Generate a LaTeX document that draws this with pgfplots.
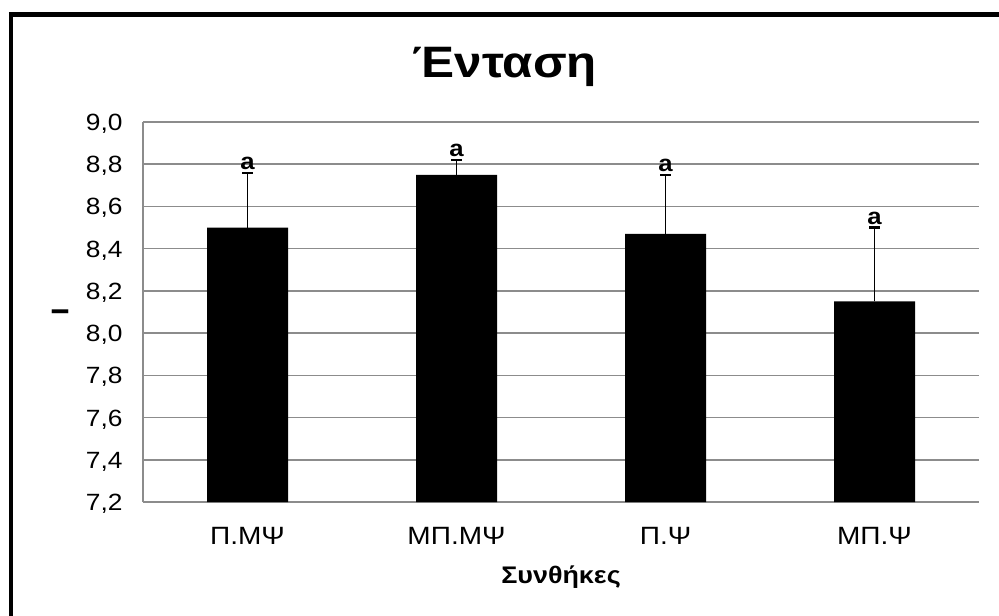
\documentclass[border=0pt]{standalone}
\usepackage{fontspec}
\setmainfont{Liberation Sans}[FakeStretch=1.12]
\usepackage{pgfplots}
\pgfplotsset{compat=1.18}
\definecolor{gridgray}{HTML}{8C8C8C}
\begin{document}
\begin{tikzpicture}[x=1pt,y=1pt]
\useasboundingbox (0,0) rectangle (999,616);
\fill[white] (0,0) rectangle (999,616);
\begin{axis}[
  at={(143pt,114pt)}, anchor=south west,
  scale only axis, width=836pt, height=380pt,
  xmin=-0.5, xmax=3.5, ymin=7.2, ymax=9.0,
  ytick={7.2,7.4,7.6,7.8,8.0,8.2,8.4,8.6,8.8,9.0},
  xtick={0,1,2,3},
  xticklabels={Π.ΜΨ, ΜΠ.ΜΨ, Π.Ψ, ΜΠ.Ψ},
  major tick length=0pt,
  axis x line*=bottom, axis y line*=left,
  axis line style={gridgray, line width=1.5pt, -},
  ymajorgrids, major grid style={gridgray, line width=1.5pt},
  /pgf/number format/assume math mode=true,
  /pgf/number format/.cd, use comma, fixed, fixed zerofill, precision=1, /pgfplots/.cd,
  yticklabel style={font=\fontsize{23.5}{27}\selectfont, anchor=base east, xshift=-17pt, yshift=-8.5pt},
  xticklabel style={font=\fontsize{25}{29}\selectfont, anchor=base, yshift=-42pt},
  title={Ένταση},
  every axis title/.style={at={(axis description cs:0.433,1)}, anchor=base, yshift=44pt, font=\fontsize{44}{50}\selectfont\bfseries},
  xlabel={Συνθήκες},
  every axis x label/.style={at={(axis description cs:0.5,0)}, anchor=base, yshift=-81pt, font=\fontsize{24}{28}\selectfont\bfseries},
  ylabel={I},
  every axis y label/.style={at={(axis description cs:0,0.5)}, rotate=90, anchor=center, yshift=83pt, font=\fontsize{24}{28}\selectfont\bfseries},
]
\addplot[ybar, bar width=81pt, fill=black, draw=none,
  error bars/.cd, y dir=plus, y explicit,
  error bar style={black, line width=1.5pt},
  error mark options={rotate=90, mark size=5.5pt, line width=2.2pt, black}]
  coordinates {
    (0,8.50) +- (0,0.26)
    (1,8.75) +- (0,0.07)
    (2,8.47) +- (0,0.28)
    (3,8.15) +- (0,0.35)
  };
\addplot[draw=none, mark=none, point meta=explicit symbolic,
  nodes near coords, nodes near coords style={anchor=base, yshift=3.5pt, inner sep=0pt, font=\fontsize{23}{27}\selectfont\bfseries}]
  coordinates {
    (0,8.76) [a]
    (1,8.82) [a]
    (2,8.75) [a]
    (3,8.50) [a]
  };
\end{axis}
\draw[line width=4.5pt] (8.75,601.5) -- (1005,601.5);
\draw[line width=4.5pt] (10.75,603.75) -- (10.75,-10);
\end{tikzpicture}
\end{document}
